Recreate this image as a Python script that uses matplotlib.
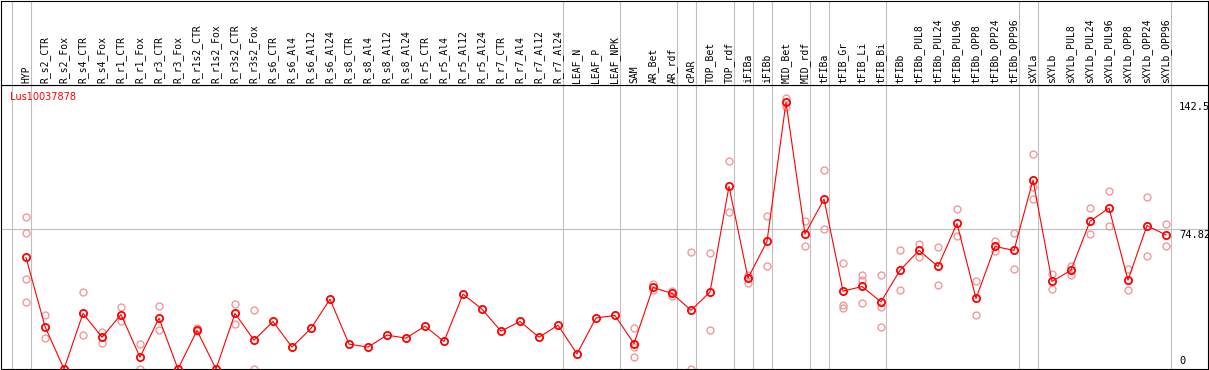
import numpy as np
import matplotlib
matplotlib.use('Agg')
import matplotlib.pyplot as plt

samples = ['HYP', 'R_s2_CTR', 'R_s2_Fox', 'R_s4_CTR', 'R_s4_Fox', 'R_r1_CTR', 'R_r1_Fox',
           'R_r3_CTR', 'R_r3_Fox', 'R_r1s2_CTR', 'R_r1s2_Fox', 'R_r3s2_CTR', 'R_r3s2_Fox',
           'R_s6_CTR', 'R_s6_Al4', 'R_s6_Al12', 'R_s6_Al24', 'R_s8_CTR', 'R_s8_Al4',
           'R_s8_Al12', 'R_s8_Al24', 'R_r5_CTR', 'R_r5_Al4', 'R_r5_Al12', 'R_r5_Al24',
           'R_r7_CTR', 'R_r7_Al4', 'R_r7_Al12', 'R_r7_Al24', 'LEAF_N', 'LEAF_P', 'LEAF_NPK',
           'SAM', 'AR_Bet', 'AR_rdf', 'cPAR', 'TOP_Bet', 'TOP_rdf', 'iFIBa', 'iFIBb',
           'MID_Bet', 'MID_rdf', 'tFIBa', 'tFIB_Gr', 'tFIB_Li', 'tFIB_Bi', 'tFIBb',
           'tFIBb_PUL8', 'tFIBb_PUL24', 'tFIBb_PUL96', 'tFIBb_OPP8', 'tFIBb_OPP24',
           'tFIBb_OPP96', 'sXYLa', 'sXYLb', 'sXYLb_PUL8', 'sXYLb_PUL24', 'sXYLb_PUL96',
           'sXYLb_OPP8', 'sXYLb_OPP24', 'sXYLb_OPP96']

# mean expression per sample
means = [59.6, 22.7, 0.0, 29.7, 17.0, 29.1, 6.3, 27.2, 0.0, 20.6, 0.0, 29.7, 15.4,
         25.4, 11.7, 21.7, 37.3, 13.3, 11.7, 18.1, 16.5, 22.9, 14.7, 40.0, 32.0,
         20.2, 25.4, 17.0, 23.4, 8.1, 27.3, 28.6,
         13.6, 43.6, 40.4, 31.4, 41.1, 97.6, 48.6, 68.2,
         142.5, 72.1, 90.8, 41.6, 44.1, 35.9, 52.8,
         63.4, 54.8, 77.8, 37.7, 65.5, 63.4,
         101.0, 46.8, 52.8, 79.0, 86.0, 47.5, 76.7, 71.6]

# individual replicates
replicates = [[81.0, 72.8, 47.9, 35.6], [28.8, 16.8], [], [40.9, 18.4], [19.8, 14.0],
              [33.0, 25.7], [13.3, 0.0], [33.6, 20.6], [], [22.0, 20.4], [],
              [35.0, 24.1], [31.3, 0.0],
              [], [], [], [], [], [], [], [], [], [], [], [], [], [], [], [], [], [], [],
              [21.7, 12.0, 6.3], [45.2, 42.1], [41.8, 38.9], [62.8, 0.0], [61.9, 20.7],
              [111.1, 83.7], [50.2, 46.0], [81.6, 55.3],
              [145.0, 140.2], [79.0, 65.7], [106.3, 74.8], [56.6, 34.1, 32.4],
              [50.2, 47.5, 35.2], [50.0, 33.2, 22.2], [63.5, 42.1],
              [66.9, 59.9], [65.0, 44.7], [85.3, 70.9], [47.3, 28.6], [68.5, 63.0],
              [72.5, 53.7],
              [114.7, 97.4, 90.6], [50.9, 42.5], [55.3, 50.3], [85.8, 72.1], [94.9, 76.2],
              [53.2, 42.1], [92.2, 60.5], [77.3, 65.5]]

# last sample of each group (separators drawn just after)
group_ends = [-1, 0, 28, 31, 34, 35, 37, 38, 39, 41, 42, 45, 52, 53, 60]

gene = 'Lus10037878'
ref_ticks = [142.5, 74.82, 0]

W, H = 1209, 370
fig = plt.figure(figsize=(W / 100, H / 100), dpi=100)
x = np.arange(len(samples))
xlim = ((1 - 26) / 19, (1208 - 26) / 19)
grey = '#c0c0c0'

ax = fig.add_axes([1 / W, 1 / H, 1207 / W, 284 / H])
lab = fig.add_axes([1 / W, 285 / H, 1207 / W, 84.5 / H])

for a in (ax, lab):
    a.set_xlim(*xlim)
    a.set_xticks([])
    a.set_yticks([])
    for s in a.spines.values():
        s.set_linewidth(0.8)
        s.set_color('black')
    for g in group_ends:
        a.axvline(g + 0.24, color=grey, lw=0.8, zorder=0)

ax.set_ylim(0, 151.8)
lab.set_ylim(0, 1)
ax.axhline(74.82, color=grey, lw=0.8, zorder=0)

rx = [i for i, r in enumerate(replicates) for _ in r]
ry = [v for r in replicates for v in r]
ax.plot(rx, ry, 'o', ms=5, mfc='none', mec='#f09a9a', mew=1.0, clip_on=False, zorder=2)
ax.plot(x, means, '-', color='red', lw=0.8, zorder=3, clip_on=False)
ax.plot(x, means, 'o', ms=5.2, mfc='none', mec='red', mew=1.3, zorder=4, clip_on=False)

for i, name in enumerate(samples):
    lab.text(i, 0.025, name, rotation=90, ha='center', va='bottom',
             family='DejaVu Sans Mono', fontsize=7)

xr = (1179 - 26) / 19
ax.text(xr, ref_ticks[0], '142.5', ha='left', va='top', family='DejaVu Sans Mono', fontsize=7.5)
ax.text(xr, ref_ticks[1] - 0.5, '74.82', ha='left', va='top', family='DejaVu Sans Mono', fontsize=7.5)
ax.text(xr, 1.5, '0', ha='left', va='bottom', family='DejaVu Sans Mono', fontsize=7.5)

fig.text(10 / W, 1 - 92 / H, gene, color='red', ha='left', va='top', fontsize=7)

fig.savefig('out.png', dpi=100)
